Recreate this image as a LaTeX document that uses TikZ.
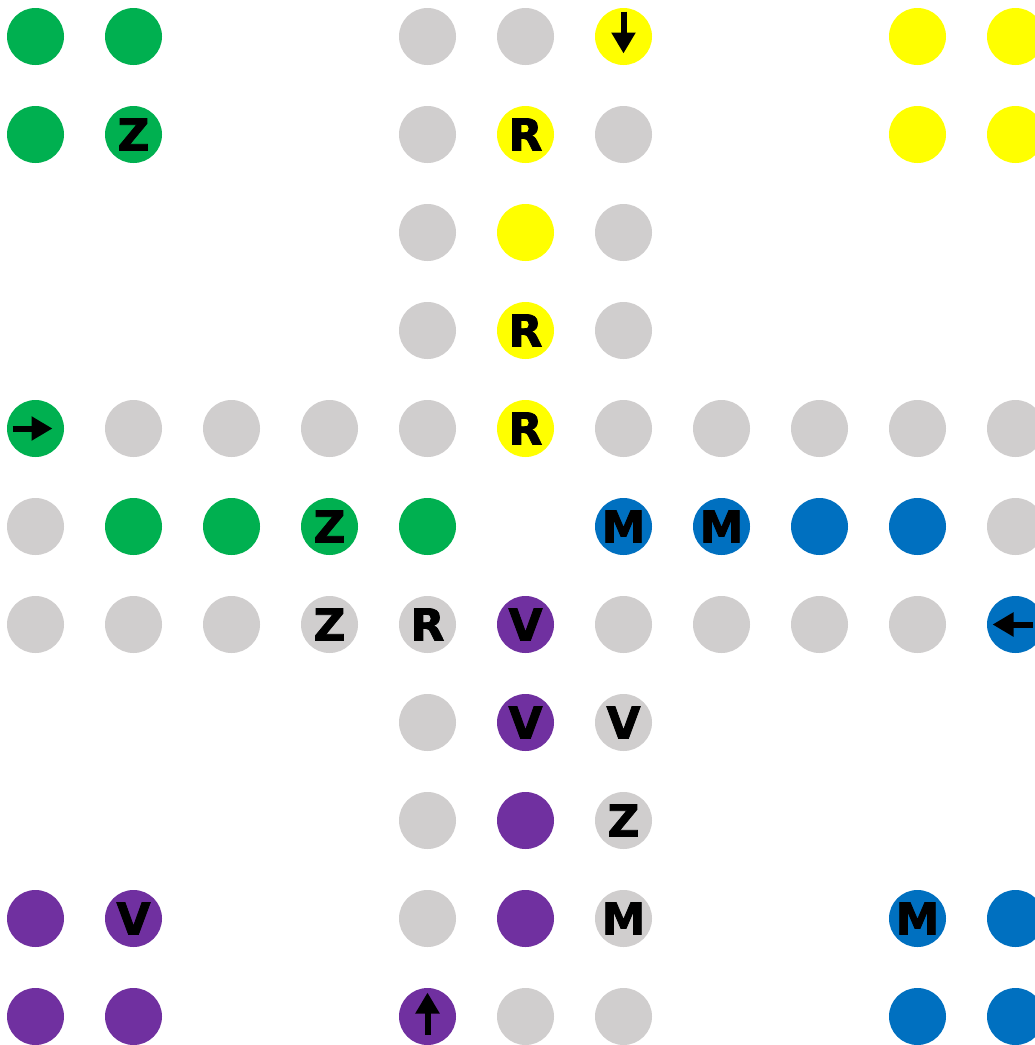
\documentclass[tikz,border=0pt]{standalone}
\usepackage{fontspec}
\setmainfont{DejaVu Sans}
\newfontfamily\heavyfont[FakeBold=1.8]{DejaVu Sans Bold}
\usetikzlibrary{arrows.meta}
\definecolor{cG}{HTML}{00B050}
\definecolor{cY}{HTML}{FFFF00}
\definecolor{cg}{HTML}{D0CECE}
\definecolor{cB}{HTML}{0070C0}
\definecolor{cP}{HTML}{7030A0}
\tikzset{
  dot/.style={circle, minimum size=57pt, inner sep=0pt, draw=none, text=black,
    font=\heavyfont\fontsize{44}{44}\selectfont},
  arr/.style={line width=6pt, -{Triangle[length=21pt,width=23pt]}, black}
}
\begin{document}
\begin{tikzpicture}[x=1pt,y=-1pt]
\fill[white] (0,0) rectangle (1035,1045);
\useasboundingbox (0,0) rectangle (1035,1045);
\clip (0,0) rectangle (1035,1045);
\foreach \r/\c/\col/\lab in {
 0/0/cG/{},0/1/cG/{},0/4/cg/{},0/5/cg/{},0/6/cY/{},0/9/cY/{},0/10/cY/{},
 1/0/cG/{},1/1/cG/Z,1/4/cg/{},1/5/cY/R,1/6/cg/{},1/9/cY/{},1/10/cY/{},
 2/4/cg/{},2/5/cY/{},2/6/cg/{},
 3/4/cg/{},3/5/cY/R,3/6/cg/{},
 4/0/cG/{},4/1/cg/{},4/2/cg/{},4/3/cg/{},4/4/cg/{},4/5/cY/R,4/6/cg/{},4/7/cg/{},4/8/cg/{},4/9/cg/{},4/10/cg/{},
 5/0/cg/{},5/1/cG/{},5/2/cG/{},5/3/cG/Z,5/4/cG/{},5/6/cB/M,5/7/cB/M,5/8/cB/{},5/9/cB/{},5/10/cg/{},
 6/0/cg/{},6/1/cg/{},6/2/cg/{},6/3/cg/Z,6/4/cg/R,6/5/cP/V,6/6/cg/{},6/7/cg/{},6/8/cg/{},6/9/cg/{},6/10/cB/{},
 7/4/cg/{},7/5/cP/V,7/6/cg/V,
 8/4/cg/{},8/5/cP/{},8/6/cg/Z,
 9/0/cP/{},9/1/cP/V,9/4/cg/{},9/5/cP/{},9/6/cg/M,9/9/cB/M,9/10/cB/{},
 10/0/cP/{},10/1/cP/{},10/4/cP/{},10/5/cg/{},10/6/cg/{},10/9/cB/{},10/10/cB/{}}
{
  \node[dot, fill=\col] (c-\r-\c) at ({35.5+98*\c},{36.5+98*\r}) {\lab};
}
\draw[arr] ([yshift=25pt]c-0-6.center) -- ([yshift=-17pt]c-0-6.center);
\draw[arr] ([xshift=-23pt]c-4-0.center) -- ([xshift=17pt]c-4-0.center);
\draw[arr] ([xshift=17pt]c-6-10.center) -- ([xshift=-23pt]c-6-10.center);
\draw[arr] ([yshift=-18pt]c-10-4.center) -- ([yshift=24pt]c-10-4.center);
\end{tikzpicture}
\end{document}
